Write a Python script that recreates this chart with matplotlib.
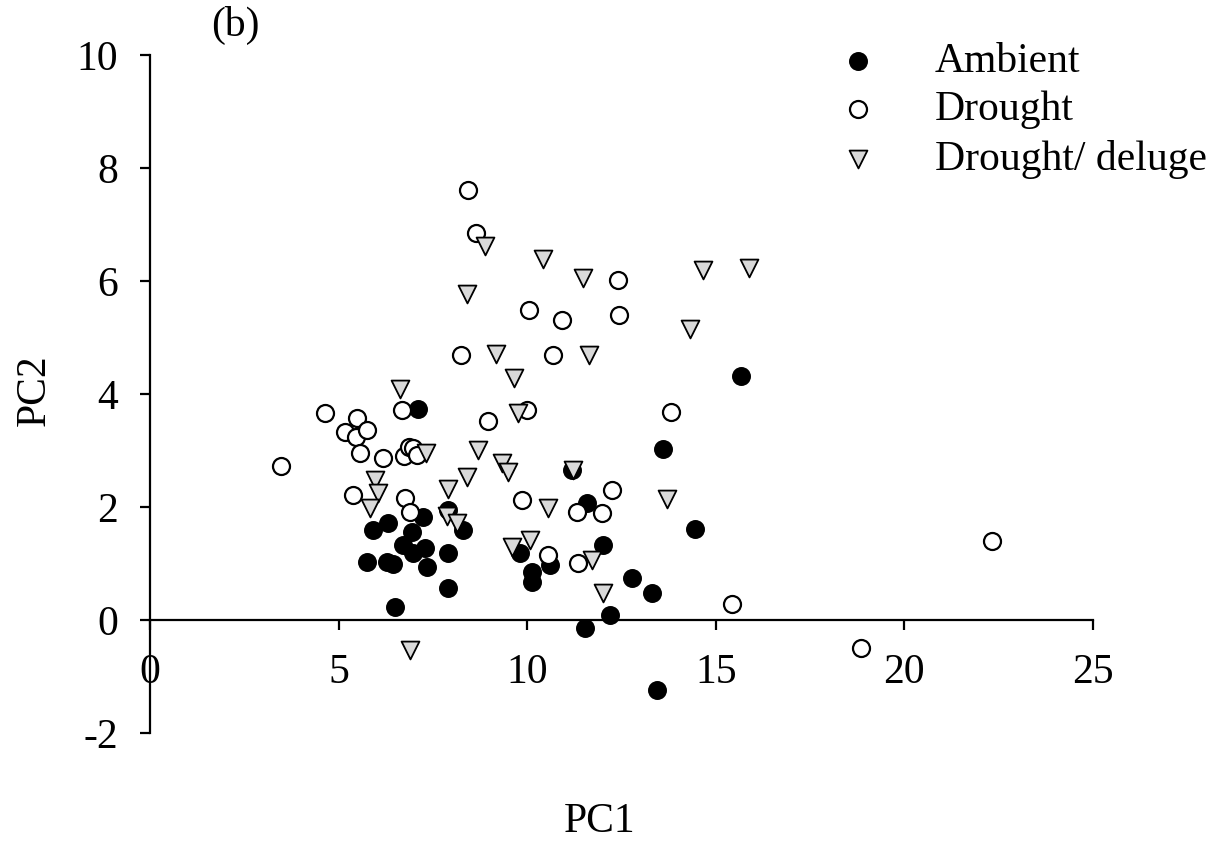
import matplotlib
matplotlib.use("Agg")
import matplotlib.pyplot as plt
from matplotlib.ticker import FixedLocator, FuncFormatter

plt.rcParams["font.family"] = ["Liberation Serif", "DejaVu Serif"]
plt.rcParams["axes.unicode_minus"] = False

# Principal component scores per treatment
ambient_pc1 = [7.10, 15.67, 13.60, 14.45, 11.59, 11.19, 12.01, 9.81, 10.13, 10.13,
               10.60, 12.78, 13.31, 12.20, 11.53, 13.44, 5.91, 6.31, 7.24, 6.95,
               6.71, 7.29, 6.97, 7.34, 7.90, 5.75, 6.28, 6.45, 7.90, 6.50, 7.90, 8.30]
ambient_pc2 = [3.73, 4.32, 3.03, 1.61, 2.07, 2.65, 1.33, 1.19, 0.85, 0.67,
               0.97, 0.74, 0.48, 0.09, -0.14, -1.24, 1.59, 1.72, 1.83, 1.55,
               1.33, 1.28, 1.18, 0.94, 1.18, 1.03, 1.03, 1.00, 0.56, 0.23, 1.94, 1.59]

drought_pc1 = [8.43, 8.64, 12.41, 10.05, 10.92, 12.43, 8.24, 10.68, 13.81, 9.99,
               8.96, 4.64, 3.47, 5.49, 5.17, 5.46, 5.75, 5.57, 6.18, 6.68,
               5.38, 6.73, 6.87, 6.97, 7.08, 9.86, 6.76, 6.89, 12.25, 11.32,
               11.98, 10.55, 11.35, 15.43, 22.32, 18.85]
drought_pc2 = [7.61, 6.85, 6.02, 5.49, 5.31, 5.40, 4.69, 4.69, 3.68, 3.72,
               3.52, 3.66, 2.73, 3.58, 3.33, 3.24, 3.36, 2.96, 2.87, 3.72,
               2.21, 2.90, 3.06, 3.04, 2.92, 2.12, 2.16, 1.91, 2.30, 1.91,
               1.89, 1.15, 1.01, 0.28, 1.40, -0.50]

deluge_pc1 = [8.88, 10.42, 11.48, 8.40, 14.66, 15.88, 14.32, 9.17, 11.64, 9.65,
              6.63, 9.76, 7.32, 8.70, 9.33, 9.49, 8.40, 7.90, 11.22, 13.71,
              5.96, 6.04, 5.83, 7.87, 8.14, 9.60, 10.07, 10.55, 11.72, 12.01, 6.89]
deluge_pc2 = [6.62, 6.39, 6.06, 5.77, 6.19, 6.23, 5.15, 4.71, 4.69, 4.28,
              4.09, 3.66, 2.96, 3.01, 2.78, 2.62, 2.53, 2.32, 2.65, 2.14,
              2.48, 2.25, 1.99, 1.84, 1.72, 1.29, 1.42, 1.99, 1.06, 0.48, -0.53]

labels = ["Ambient", "Drought", "Drought/ deluge"]
x_ticks = [0, 5, 10, 15, 20, 25]
y_ticks = [-2, 0, 2, 4, 6, 8, 10]

FS = 30

fig = plt.figure(figsize=(12.23, 8.44), dpi=100)
ax = fig.add_axes([150 / 1223, 1 - 733 / 844, (1093 - 150) / 1223, (733 - 55) / 844])

ax.scatter(ambient_pc1, ambient_pc2, s=155, marker="o", facecolor="black",
           edgecolor="black", linewidths=1.2, label=labels[0], zorder=3)
ax.scatter(drought_pc1, drought_pc2, s=150, marker="o", facecolor="white",
           edgecolor="black", linewidths=1.6, label=labels[1], zorder=3)
ax.scatter(deluge_pc1, deluge_pc2, s=165, marker="v", facecolor="#d9d9d9",
           edgecolor="black", linewidths=1.3, label=labels[2], zorder=3)

ax.set_xlim(0, 25)
ax.set_ylim(-2, 10)
ax.spines["top"].set_visible(False)
ax.spines["right"].set_visible(False)
ax.spines["bottom"].set_position(("data", 0))
ax.spines["left"].set_linewidth(1.6)
ax.spines["bottom"].set_linewidth(1.6)
ax.xaxis.set_major_locator(FixedLocator(x_ticks))
ax.yaxis.set_major_locator(FixedLocator(y_ticks))
ax.xaxis.set_major_formatter(FuncFormatter(lambda v, p: f"{v:g}"))
ax.yaxis.set_major_formatter(FuncFormatter(lambda v, p: f"{v:g}"))
ax.tick_params(axis="both", direction="out", length=7, width=1.6, labelsize=FS)
ax.tick_params(axis="x", pad=17)
ax.tick_params(axis="y", pad=16)

fig.text(600 / 1223, 1 - 822 / 844, "PC1", fontsize=FS, ha="center", va="center")
fig.text(35 / 1223, 1 - 390 / 844, "PC2", fontsize=FS, ha="center", va="center",
         rotation=90)
fig.text(235 / 1223, 1 - 25 / 844, "(b)", fontsize=FS, ha="center", va="center")

ax.legend(loc="upper left", bbox_to_anchor=(816 / 1223, 1 - 42 / 844),
          bbox_transform=fig.transFigure, frameon=False, fontsize=FS,
          borderpad=0, borderaxespad=0, handlelength=2, handletextpad=0.85,
          labelspacing=0.25, scatterpoints=1, markerscale=1.0)

fig.savefig("out.png", dpi=100)
